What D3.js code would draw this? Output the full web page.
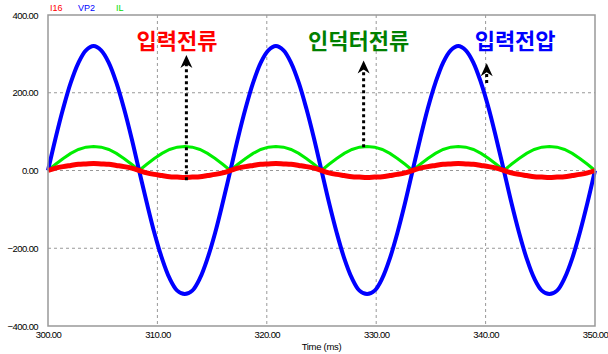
<!DOCTYPE html>
<html><head><meta charset="utf-8">
<script src="https://cdn.jsdelivr.net/npm/d3@7/dist/d3.min.js"></script>
<style>body{margin:0;background:#fff}svg{display:block}</style>
</head><body>
<svg id="c" width="608" height="354"></svg>
<script>
const times = [300.00,300.69,301.39,302.08,302.78,303.47,304.17,304.86,305.56,306.25,306.94,307.64,
308.33,309.03,309.72,310.42,311.11,311.81,312.50,313.19,313.89,314.58,315.28,315.97,
316.67,317.36,318.06,318.75,319.44,320.14,320.83,321.53,322.22,322.92,323.61,324.31,
325.00,325.69,326.39,327.08,327.78,328.47,329.17,329.86,330.56,331.25,331.94,332.64,
333.33,334.03,334.72,335.42,336.11,336.81,337.50,338.19,338.89,339.58,340.28,340.97,
341.67,342.36,343.06,343.75,344.44,345.14,345.83,346.53,347.22,347.92,348.61,349.31,350.00];
const VP2 = [0,83,160,226,277,309,320,309,277,226,160,83,0,-83,-160,-226,-277,-309,-318,-309,-277,-226,-160,-83,
0,83,160,226,277,309,320,309,277,226,160,83,0,-83,-160,-226,-277,-309,-318,-309,-277,-226,-160,-83,
0,83,160,226,277,309,320,309,277,226,160,83,0,-83,-160,-226,-277,-309,-318,-309,-277,-226,-160,-83,0];
const IL = [0,16,31,44,54,60,62,60,54,44,31,16,0,16,31,44,54,60,62,60,54,44,31,16,
0,16,31,44,54,60,62,60,54,44,31,16,0,16,31,44,54,60,62,60,54,44,31,16,
0,16,31,44,54,60,62,60,54,44,31,16,0,16,31,44,54,60,62,60,54,44,31,16,0];
const I16 = [0,6,10,13,16,17,18,17,16,13,10,6,0,-6,-10,-13,-16,-17,-18,-17,-16,-13,-10,-6,
0,6,10,13,16,17,18,17,16,13,10,6,0,-6,-10,-13,-16,-17,-18,-17,-16,-13,-10,-6,
0,6,10,13,16,17,18,17,16,13,10,6,0,-6,-10,-13,-16,-17,-18,-17,-16,-13,-10,-6,0];
const xTicks = [300,310,320,330,340,350];
const yTicks = [-400,-200,0,200,400];
const legend = [{name:"I16",color:"#ff0000"},{name:"VP2",color:"#0000ff"},{name:"IL",color:"#00dd00"}];
const notes = [
  {text:"입력전류", color:"#ff0000", t:311.8, v:312},
  {text:"인덕터전류", color:"#008000", t:328.4, v:312},
  {text:"입력전압", color:"#0000ff", t:342.7, v:312}];
const arrows = [{t:312.65, from:-25, to:297},{t:328.85, from:60, to:283},{t:340.1, from:225, to:276}];

const svg = d3.select("#c");
const L=48,R=595,T=15,B=326;
const x = d3.scaleLinear().domain([300,350]).range([L,R]);
const y = d3.scaleLinear().domain([-400,400]).range([B,T]);

// grid
svg.append("g").selectAll("line").data(xTicks.filter(d=>d>300&&d<350)).join("line")
  .attr("x1",d=>x(d)).attr("x2",d=>x(d)).attr("y1",T).attr("y2",B)
  .attr("stroke","#999").attr("stroke-dasharray","3,3");
svg.append("g").selectAll("line").data(yTicks.filter(d=>d>-400&&d<400)).join("line")
  .attr("x1",L).attr("x2",R).attr("y1",d=>y(d)).attr("y2",d=>y(d))
  .attr("stroke","#999").attr("stroke-dasharray","3,3");

// axes
const fmt = d3.format(".2f");
const yAxis = d3.axisLeft(y).tickValues(yTicks).tickFormat(fmt).tickSize(0).tickPadding(10);
const xAxis = d3.axisBottom(x).tickValues(xTicks).tickFormat(fmt).tickSize(0).tickPadding(5);
const gy = svg.append("g").attr("transform",`translate(${L},0)`).call(yAxis);
const gx = svg.append("g").attr("transform",`translate(0,${B})`).call(xAxis);
[gx,gy].forEach(g=>{g.select(".domain").remove();
  g.selectAll("text").attr("font-family","Liberation Sans, Arial").attr("font-size","9.5px")
   .attr("letter-spacing","-0.6px").attr("fill","#000");});
gy.selectAll("text").attr("dy","0.32em");
svg.append("text").attr("x",(L+R)/2).attr("y",350).attr("text-anchor","middle")
  .attr("font-family","Liberation Sans, Arial").attr("font-size","9.5px").attr("letter-spacing","-0.3px").text("Time (ms)");

// lines
const pts = vals => vals.map((v,i)=>[times[i],v]);
const lineC = d3.line().x(d=>x(d[0])).y(d=>y(d[1])).curve(d3.curveCatmullRom);
const lineL = d3.line().x(d=>x(d[0])).y(d=>y(d[1]));
const plot = svg.append("g");
plot.append("path").attr("d",lineL(pts(IL))).attr("fill","none").attr("stroke","#00ee00").attr("stroke-width",3);
plot.append("path").attr("d",lineC(pts(VP2))).attr("fill","none").attr("stroke","#0000ff").attr("stroke-width",4);
plot.append("path").attr("d",lineC(pts(I16))).attr("fill","none").attr("stroke","#ff0000").attr("stroke-width",5);

// frame
svg.append("rect").attr("x",L).attr("y",T).attr("width",R-L).attr("height",B-T)
  .attr("fill","none").attr("stroke","#999").attr("stroke-width",1.5);

// legend
svg.append("g").selectAll("text").data(legend).join("text")
  .attr("x",(d,i)=>[50,78,116][i]).attr("y",11)
  .attr("font-family","Liberation Sans, Arial").attr("font-size","9px")
  .attr("fill",d=>d.color).text(d=>d.name);

// arrows
svg.append("g").selectAll("line").data(arrows).join("line")
  .attr("x1",d=>x(d.t)).attr("x2",d=>x(d.t)).attr("y1",d=>y(d.from)).attr("y2",d=>y(d.to)+8)
  .attr("stroke","#000").attr("stroke-width",3).attr("stroke-dasharray","3,3");
svg.append("g").selectAll("path").data(arrows).join("path")
  .attr("d",d=>`M${x(d.t)},${y(d.to)} l6,13 l-6,-4 l-6,4 Z`).attr("fill","#000");

// annotations
svg.append("g").selectAll("text").data(notes).join("text")
  .attr("x",d=>x(d.t)).attr("y",d=>y(d.v)).attr("text-anchor","middle")
  .attr("font-family","Noto Sans CJK KR").attr("font-weight","bold").attr("font-size","22px")
  .attr("fill",d=>d.color).text(d=>d.text);
</script>
</body></html>
